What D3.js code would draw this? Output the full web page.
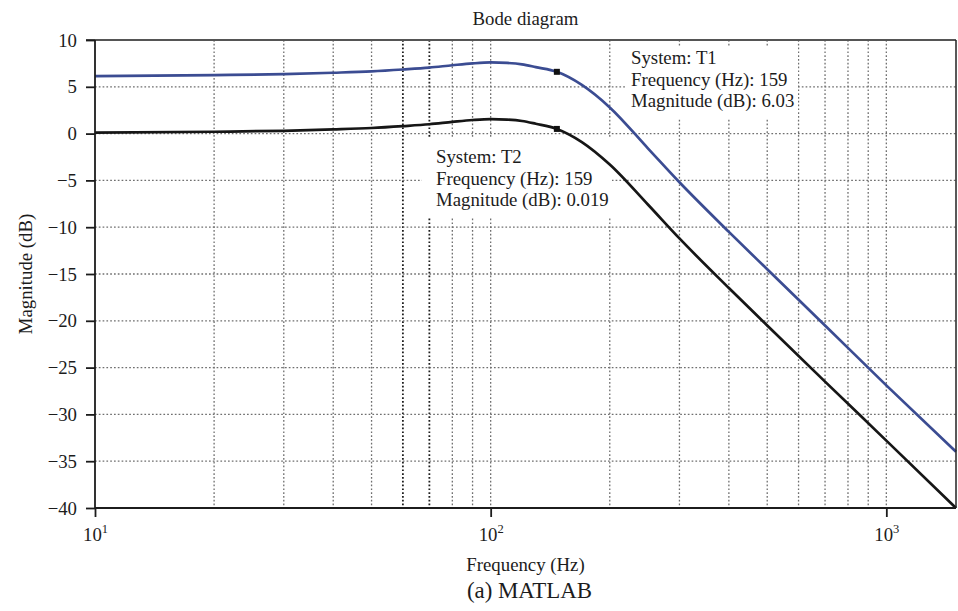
<!DOCTYPE html>
<html>
<head>
<meta charset="utf-8">
<script src="https://cdn.jsdelivr.net/npm/d3@7"></script>
<style>
  body { margin: 0; background: #fff; }
  svg text { font-family: 'Liberation Serif', 'Times New Roman', serif; fill: #1c1c1c; }
</style>
</head>
<body>
<svg id="chart" width="958" height="611"></svg>
<script>
// values
const freqs = [10, 20, 30, 40, 50, 60, 70, 80, 90, 100, 110, 120, 130, 147, 170, 200, 250, 300, 400, 500, 700, 1000, 1500];
const magT1 = [6.15, 6.25, 6.35, 6.5, 6.65, 6.85, 7.05, 7.3, 7.5, 7.6, 7.55, 7.4, 7.1, 6.6, 5.2, 2.8, -1.6, -5.2, -10.5, -14.5, -20.5, -26.9, -34.0];
const magT2 = [0.1, 0.2, 0.3, 0.45, 0.6, 0.8, 1.0, 1.25, 1.45, 1.55, 1.5, 1.35, 1.05, 0.5, -0.9, -3.3, -7.6, -11.2, -16.5, -20.5, -26.5, -32.8, -40.0];

const yTicks = [10, 5, 0, -5, -10, -15, -20, -25, -30, -35, -40];
const xTicks = [10, 100, 1000];
const xTickExp = ['1', '2', '3'];
const gridFreqs = [20, 30, 40, 50, 60, 70, 80, 90, 100, 200, 300, 400, 500, 600, 700, 800, 900, 1000];
const darkGridFreqs = [60, 70];
const gridMags = [5, 0, -5, -10, -15, -20, -25, -30, -35];

const tipT1 = ['System: T1', 'Frequency (Hz): 159', 'Magnitude (dB): 6.03'];
const tipT2 = ['System: T2', 'Frequency (Hz): 159', 'Magnitude (dB): 0.019'];
const tipPoints = [{ f: 147, m: 6.6 }, { f: 147, m: 0.5 }];

const margin = { top: 40, right: 2, bottom: 103, left: 95 };
const W = 958;
const H = 611;
const x0 = margin.left;
const x1 = W - margin.right;
const y0 = margin.top;
const y1 = H - margin.bottom;
const fontSize = 18.8;

const svg = d3.select('#chart');

const x = d3.scaleLog().domain([10, 1500]).range([x0, x1]);
const y = d3.scaleLinear().domain([-40, 10]).range([y1, y0]);

// grid
const grid = svg.append('g').attr('class', 'grid');
grid.selectAll('line.v')
  .data(gridFreqs)
  .enter()
  .append('line')
  .attr('class', 'v')
  .attr('x1', d => x(d))
  .attr('x2', d => x(d))
  .attr('y1', y0)
  .attr('y2', y1)
  .attr('stroke', d => darkGridFreqs.includes(d) ? '#1e1e1e' : '#6f6f6f')
  .attr('stroke-width', d => darkGridFreqs.includes(d) ? 1.8 : 1.3)
  .attr('stroke-dasharray', '1.7,2.1');

grid.selectAll('line.h')
  .data(gridMags)
  .enter()
  .append('line')
  .attr('class', 'h')
  .attr('x1', x0)
  .attr('x2', x1)
  .attr('y1', d => y(d))
  .attr('y2', d => y(d))
  .attr('stroke', '#6f6f6f')
  .attr('stroke-width', 1.3)
  .attr('stroke-dasharray', '1.7,2.1');

// datatip backgrounds hide the grid
const tipBoxes = [
  { x: 625, y: 47, w: 173, h: 71 },
  { x: 422, y: 137, w: 190, h: 80 }
];
svg.append('g')
  .selectAll('rect')
  .data(tipBoxes)
  .enter()
  .append('rect')
  .attr('x', d => d.x)
  .attr('y', d => d.y)
  .attr('width', d => d.w)
  .attr('height', d => d.h)
  .attr('fill', '#fff');

// curves
const line = d3.line()
  .x(d => x(d[0]))
  .y(d => y(d[1]))
  .curve(d3.curveMonotoneX);

const series = [
  { name: 'T1', values: magT1, color: '#3b4c92' },
  { name: 'T2', values: magT2, color: '#161616' }
];

svg.append('g')
  .selectAll('path')
  .data(series)
  .enter()
  .append('path')
  .attr('fill', 'none')
  .attr('stroke', d => d.color)
  .attr('stroke-width', 2.7)
  .attr('d', d => line(freqs.map((f, i) => [f, d.values[i]])));

// datatip markers
svg.append('g')
  .selectAll('rect')
  .data(tipPoints)
  .enter()
  .append('rect')
  .attr('x', d => x(d.f) - 3)
  .attr('y', d => y(d.m) - 3)
  .attr('width', 6)
  .attr('height', 6)
  .attr('fill', '#111');

// frame
svg.append('line')
  .attr('x1', x0 - 9).attr('x2', x1)
  .attr('y1', y0).attr('y2', y0)
  .attr('stroke', '#555').attr('stroke-width', 1.8);
svg.append('line')
  .attr('x1', x1).attr('x2', x1)
  .attr('y1', y0).attr('y2', y1)
  .attr('stroke', '#222').attr('stroke-width', 1.5);
svg.append('line')
  .attr('x1', x0).attr('x2', x0)
  .attr('y1', y0).attr('y2', y1)
  .attr('stroke', '#1c1c1c').attr('stroke-width', 1.8);
svg.append('line')
  .attr('x1', x0).attr('x2', x1)
  .attr('y1', y1).attr('y2', y1)
  .attr('stroke', '#1c1c1c').attr('stroke-width', 1.8);

// y axis
const yAxis = svg.append('g')
  .attr('transform', `translate(${x0},0)`)
  .call(d3.axisLeft(y).tickValues(yTicks).tickSize(9).tickPadding(9));
yAxis.select('.domain').remove();
yAxis.selectAll('.tick line').attr('stroke', '#1c1c1c').attr('stroke-width', 1.8);
yAxis.selectAll('.tick text')
  .attr('font-size', fontSize)
  .attr('fill', '#1c1c1c');

// x axis
const xAxis = svg.append('g')
  .attr('transform', `translate(0,${y1})`)
  .call(d3.axisBottom(x).tickValues(xTicks).tickSize(9).tickPadding(11).tickFormat(''));
xAxis.select('.domain').remove();
xAxis.selectAll('.tick line').attr('stroke', '#1c1c1c').attr('stroke-width', 1.8);
xAxis.selectAll('.tick text').remove();
xAxis.selectAll('.tick')
  .append('text')
  .attr('y', 33)
  .attr('font-size', fontSize)
  .attr('text-anchor', 'middle')
  .each(function (d, i) {
    const t = d3.select(this);
    t.append('tspan').text('10');
    t.append('tspan')
      .attr('font-size', 12.5)
      .attr('dy', -8)
      .text(xTickExp[i]);
  });

// labels
svg.append('text')
  .attr('x', (x0 + x1) / 2)
  .attr('y', 25)
  .attr('text-anchor', 'middle')
  .attr('font-size', fontSize)
  .text('Bode diagram');

svg.append('text')
  .attr('x', (x0 + x1) / 2)
  .attr('y', 571)
  .attr('text-anchor', 'middle')
  .attr('font-size', fontSize)
  .text('Frequency (Hz)');

svg.append('text')
  .attr('x', (x0 + x1) / 2 + 4)
  .attr('y', 598)
  .attr('text-anchor', 'middle')
  .attr('font-size', 22.9)
  .text('(a) MATLAB');

svg.append('text')
  .attr('transform', `translate(32,${(y0 + y1) / 2}) rotate(-90)`)
  .attr('text-anchor', 'middle')
  .attr('font-size', fontSize)
  .text('Magnitude (dB)');

// datatip texts
function drawTip(lines, left, top) {
  svg.append('g')
    .selectAll('text')
    .data(lines)
    .enter()
    .append('text')
    .attr('x', left)
    .attr('y', (d, i) => top + i * 21.5)
    .attr('font-size', fontSize)
    .text(d => d);
}
drawTip(tipT1, 631, 64);
drawTip(tipT2, 436, 163);
</script>
</body>
</html>
